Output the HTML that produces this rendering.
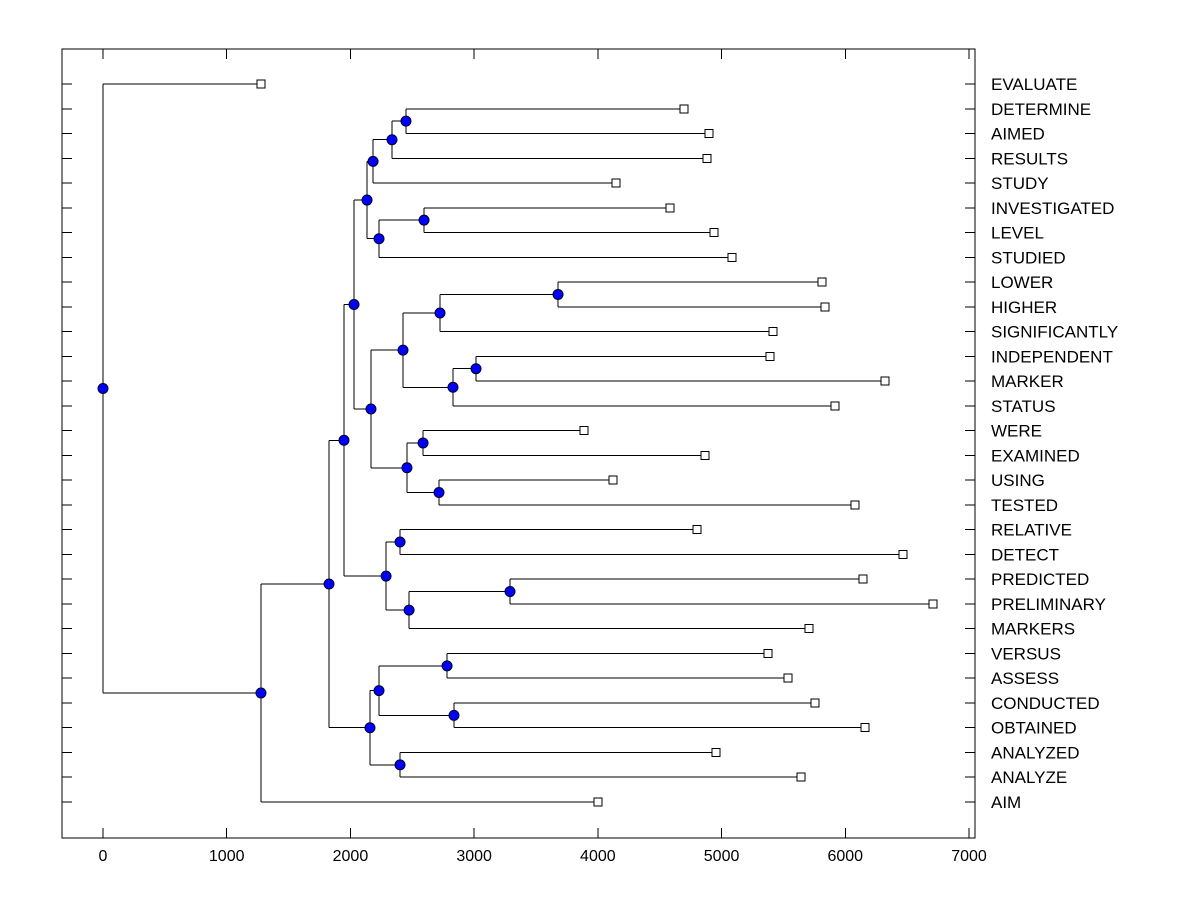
<!DOCTYPE html>
<html><head><meta charset="utf-8"><style>
body{margin:0;background:#fff;}
svg{display:block;font-family:"Liberation Sans",Arial,sans-serif;}
line,rect{shape-rendering:crispEdges;}
</style></head><body>
<svg id="chart" width="1200" height="900" viewBox="0 0 1200 900"></svg>
<script>
const leafNames = ["EVALUATE","DETERMINE","AIMED","RESULTS","STUDY","INVESTIGATED","LEVEL","STUDIED","LOWER","HIGHER","SIGNIFICANTLY","INDEPENDENT","MARKER","STATUS","WERE","EXAMINED","USING","TESTED","RELATIVE","DETECT","PREDICTED","PRELIMINARY","MARKERS","VERSUS","ASSESS","CONDUCTED","OBTAINED","ANALYZED","ANALYZE","AIM"];
const leafValues = [1277,4697,4899,4882,4147,4583,4939,5084,5812,5836,5416,5392,6321,5917,3888,4866,4123,6079,4802,6467,6143,6709,5707,5375,5537,5755,6160,4955,5642,4001];
const nodeNames = ["N10","N9","N7","N11","N8","N5","N16","N14","N17","N15","N12","N18","N19","N13","N6","N4","N20","N22","N21","NP","N3","N25","N26","N23","N24","NL","N2","N1","ROOT"];
const nodeHeights = [2449,2336,2183,2595,2231,2134,3678,2724,3015,2829,2425,2587,2716,2457,2166,2029,2401,3290,2474,2288,1948,2781,2837,2231,2401,2158,1827,1277,0];
const nodeChildren = [["DETERMINE","AIMED"],["N10","RESULTS"],["N9","STUDY"],["INVESTIGATED","LEVEL"],["N11","STUDIED"],["N7","N8"],["LOWER","HIGHER"],["N16","SIGNIFICANTLY"],["INDEPENDENT","MARKER"],["N17","STATUS"],["N14","N15"],["WERE","EXAMINED"],["USING","TESTED"],["N18","N19"],["N12","N13"],["N5","N6"],["RELATIVE","DETECT"],["PREDICTED","PRELIMINARY"],["N22","MARKERS"],["N20","N21"],["N4","NP"],["VERSUS","ASSESS"],["CONDUCTED","OBTAINED"],["N25","N26"],["ANALYZED","ANALYZE"],["N23","N24"],["N3","NL"],["N2","AIM"],["EVALUATE","N1"]];
const xTicks = [0,1000,2000,3000,4000,5000,6000,7000];

const L=62,R=975,T=49,B=838;
const xs = v => 103 + v*(866/7000);
const ys = i => 84 + i*(718/29);
const svg=document.getElementById('chart');
const NS='http://www.w3.org/2000/svg';
function mk(tag,attrs,parent){const e=document.createElementNS(NS,tag);for(const k in attrs)e.setAttribute(k,attrs[k]);(parent||svg).appendChild(e);return e;}

const frame=mk('rect',{x:L,y:T,width:R-L,height:B-T,fill:'none',stroke:'#000','stroke-width':1});



xTicks.forEach(t=>{
  const x=xs(t);
  const a=mk('line',{x1:x,y1:B,x2:x,y2:B-10,stroke:'#000'});
  
  
  const b=mk('line',{x1:x,y1:T,x2:x,y2:T+10,stroke:'#000'});
  
  
  const tx=mk('text',{x:x,y:861,'text-anchor':'middle','font-size':16});
  tx.textContent=t;
  
  
});

const pos={};
leafNames.forEach((n,i)=>{
  const y=ys(i);
  pos[n]={x:xs(leafValues[i]),y:y,leaf:true};
  const a=mk('line',{x1:L,y1:y,x2:L+10,y2:y,stroke:'#000'});
  
  
  const b=mk('line',{x1:R-10,y1:y,x2:R,y2:y,stroke:'#000'});
  
  
  const tx=mk('text',{x:991,y:y+6,'font-size':17});
  tx.textContent=n;
  
  
});
nodeNames.forEach((n,i)=>{
  const [a,b]=nodeChildren[i];
  pos[n]={x:xs(nodeHeights[i]),y:(pos[a].y+pos[b].y)/2,leaf:false};
});
const g=mk('g',{});


nodeNames.forEach((n,i)=>{
  const p=pos[n];
  const ch=nodeChildren[i];
  const v=mk('line',{x1:p.x,y1:pos[ch[0]].y,x2:p.x,y2:pos[ch[1]].y,stroke:'#000'},g);
  
  
  ch.forEach(c=>{
    const h=mk('line',{x1:p.x,y1:pos[c].y,x2:pos[c].x,y2:pos[c].y,stroke:'#000'},g);
    
    
  });
});
leafNames.forEach(n=>{
  const p=pos[n];
  const r=mk('rect',{x:p.x-4,y:p.y-4,width:8,height:8,fill:'#fff',stroke:'#000'});
  
  
});
nodeNames.forEach(n=>{
  const p=pos[n];
  const c=mk('circle',{cx:p.x,cy:p.y,r:5,fill:'#0000ff',stroke:'#000020','stroke-width':1});
  
  
});
</script>
</body></html>
